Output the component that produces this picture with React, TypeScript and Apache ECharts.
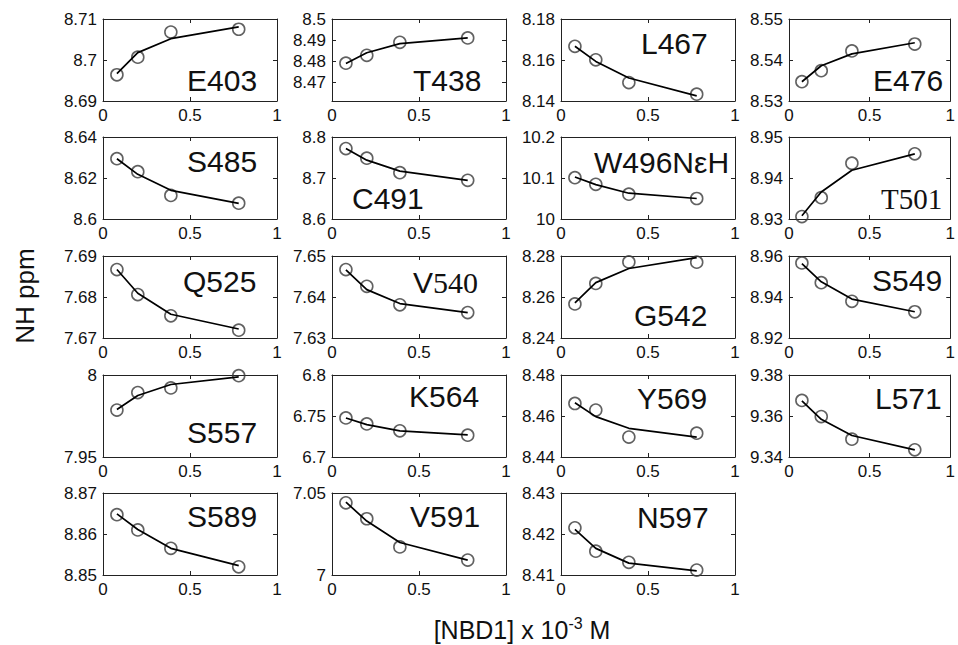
import React, { useEffect, useRef } from "react";
import * as echarts from "echarts";

// ---- data ----
const concentrations = [0.08, 0.2, 0.39, 0.78];

const residues = [
  "E403", "T438", "L467", "E476",
  "S485", "C491", "W496NεH", "T501",
  "Q525", "V540", "G542", "S549",
  "S557", "K564", "Y569", "L571",
  "S589", "V591", "N597",
];

const observed = [
  [8.6964, 8.7007, 8.7068, 8.7075],
  [8.4792, 8.4829, 8.489, 8.4911],
  [8.1667, 8.1601, 8.149, 8.1433],
  [8.5347, 8.5374, 8.5422, 8.5439],
  [8.6294, 8.6231, 8.6115, 8.6077],
  [8.7718, 8.7484, 8.7129, 8.6944],
  [10.1008, 10.0847, 10.0605, 10.05],
  [8.9306, 8.9352, 8.9436, 8.9459],
  [7.6867, 7.6806, 7.6754, 7.6719],
  [7.6467, 7.6426, 7.6381, 7.6362],
  [8.2566, 8.2666, 8.2771, 8.277],
  [8.9566, 8.947, 8.9379, 8.9328],
  [7.9786, 7.9893, 7.9921, 7.9996],
  [6.7476, 6.7403, 6.7319, 6.7266],
  [8.4661, 8.4629, 8.4497, 8.4516],
  [9.3676, 9.3597, 9.3487, 9.3435],
  [8.8647, 8.861, 8.8565, 8.852],
  [7.044, 7.0343, 7.0171, 7.0091],
  [8.4215, 8.4158, 8.4131, 8.4112],
];

const fitted = [
  [8.6967, 8.7018, 8.7052, 8.7081],
  [8.479, 8.4841, 8.4884, 8.4911],
  [8.1667, 8.1593, 8.1512, 8.1425],
  [8.5347, 8.5386, 8.5415, 8.5442],
  [8.6294, 8.6218, 8.614, 8.6076],
  [8.772, 8.7435, 8.7169, 8.6944],
  [10.1024, 10.0839, 10.0629, 10.05],
  [8.9308, 8.9366, 8.9419, 8.9459],
  [7.6867, 7.6809, 7.6758, 7.6722],
  [7.6466, 7.6418, 7.6384, 7.6362],
  [8.2571, 8.267, 8.2739, 8.2792],
  [8.9563, 8.9474, 8.939, 8.9328],
  [7.979, 7.9875, 7.9942, 7.9988],
  [6.7476, 6.7395, 6.7319, 6.727],
  [8.4665, 8.4597, 8.454, 8.4497],
  [9.3674, 9.3584, 9.3505, 9.3435],
  [8.8649, 8.8611, 8.8565, 8.8523],
  [7.0444, 7.0329, 7.0198, 7.0091],
  [8.4211, 8.4165, 8.4129, 8.411],
];

const yMin = [8.69, 8.4614, 8.14, 8.53, 8.6, 8.6, 10, 8.93, 7.67, 7.63, 8.24, 8.92, 7.95, 6.7, 8.44, 9.34, 8.85, 7, 8.41];
const yMax = [8.71, 8.5, 8.18, 8.55, 8.64, 8.8, 10.2, 8.95, 7.69, 7.65, 8.28, 8.96, 8, 6.8, 8.48, 9.38, 8.87, 7.05, 8.43];
// null = let the axis choose (ticks at 0.01 steps, min label hidden)
const yStep = [0.01, null, 0.02, 0.01, 0.02, 0.1, 0.1, 0.01, 0.01, 0.01, 0.02, 0.02, 0.05, 0.05, 0.02, 0.02, 0.01, 0.05, 0.01];

const xTicks = { min: 0, max: 1, step: 0.5 };

const yTitle = "NH ppm";
const xTitleMain = "[NBD1] x 10";
const xTitleSup = "-3";
const xTitleUnit = " M";

// ---- layout (not data) ----
const colLeft = [103, 332, 561, 789];
const rowTop = [19, 137, 256, 375, 493];
const panelW = 174;
const panelH = 82;
const labelOffset = [
  [84, 61], [81, 61], [80, 24], [84, 61],
  [84, 24], [20, 61], [33, 25], [92, 62],
  [80, 25], [81, 26], [73, 59], [83, 24],
  [84, 57], [77, 21], [76, 23], [86, 23],
  [84, 23], [78, 23], [76, 24],
];

const SANS = '"Liberation Sans", Arial, Helvetica, sans-serif';
const SERIF = '"Liberation Serif", "Times New Roman", serif';
const INK = "#111";

function panelLabel(i: number, x: number, y: number) {
  const name = residues[i];
  const base: any = {
    type: "text",
    x,
    y,
    z: 100,
    style: { align: "left", verticalAlign: "middle", fill: INK },
  };
  if (name === "T501") {
    base.style.text = name;
    base.style.font = `29px ${SERIF}`;
  } else if (name === "V540") {
    base.style.text = "{s|V}{t|540}";
    base.style.rich = {
      s: { fontSize: 30, fontFamily: SANS, fill: INK, color: INK },
      t: { fontSize: 30, fontFamily: SERIF, fill: INK, color: INK },
    };
  } else {
    base.style.text = name;
    base.style.font = `30px ${SANS}`;
  }
  return base;
}

export default function App() {
  const ref = useRef<HTMLDivElement>(null);

  useEffect(() => {
    if (!ref.current) return;
    const chart = echarts.init(ref.current, undefined, { renderer: "svg" });

    const grids: any[] = [];
    const xAxes: any[] = [];
    const yAxes: any[] = [];
    const series: any[] = [];
    const graphics: any[] = [];

    residues.forEach((_, i) => {
      const r = Math.floor(i / 4);
      const c = i % 4;
      const left = colLeft[c];
      const top = rowTop[r];
      grids.push({ left, top, width: panelW, height: panelH, containLabel: false });

      const lineStyle = { show: true, onZero: false, lineStyle: { color: "#222", width: 1 } };
      const tick = { show: true, inside: true, length: 4, lineStyle: { color: "#222", width: 1 } };

      xAxes.push({
        type: "value",
        gridIndex: i,
        position: "bottom",
        min: xTicks.min,
        max: xTicks.max,
        interval: xTicks.step,
        axisLine: lineStyle,
        axisTick: tick,
        splitLine: { show: false },
        axisLabel: { show: true, fontSize: 17, fontFamily: SANS, color: INK, margin: 6, showMinLabel: true, showMaxLabel: true },
      });
      xAxes.push({
        type: "value",
        gridIndex: i,
        position: "top",
        min: xTicks.min,
        max: xTicks.max,
        interval: xTicks.step,
        axisLine: lineStyle,
        axisTick: tick,
        splitLine: { show: false },
        axisLabel: { show: false },
      });

      const step = yStep[i];
      const yCommon: any = {
        type: "value",
        gridIndex: i,
        min: yMin[i],
        max: yMax[i],
        axisLine: lineStyle,
        axisTick: tick,
        splitLine: { show: false },
      };
      if (step != null) yCommon.interval = step;
      else yCommon.splitNumber = 4;

      yAxes.push({
        ...yCommon,
        position: "left",
        axisLabel: {
          show: true,
          fontSize: 17,
          fontFamily: SANS,
          color: INK,
          margin: 6,
          showMinLabel: step != null,
          showMaxLabel: true,
        },
      });
      yAxes.push({
        ...yCommon,
        position: "right",
        axisLabel: { show: false },
      });

      series.push({
        type: "line",
        xAxisIndex: 2 * i,
        yAxisIndex: 2 * i,
        data: concentrations.map((x, j) => [x, fitted[i][j]]),
        symbol: "none",
        lineStyle: { color: "#000", width: 1.7 },
        z: 3,
        silent: true,
      });
      series.push({
        type: "scatter",
        xAxisIndex: 2 * i,
        yAxisIndex: 2 * i,
        data: concentrations.map((x, j) => [x, observed[i][j]]),
        symbol: "circle",
        symbolSize: 12,
        itemStyle: { color: "rgba(0,0,0,0)", borderColor: "#3a3a3a", borderWidth: 1.6 },
        z: 2,
        silent: true,
      });

      graphics.push(panelLabel(i, left + labelOffset[i][0], top + labelOffset[i][1]));
    });

    graphics.push({
      type: "text",
      x: 25,
      y: 296,
      rotation: Math.PI / 2,
      style: {
        text: yTitle,
        font: `26px ${SANS}`,
        fill: INK,
        align: "center",
        verticalAlign: "middle",
      },
    });
    graphics.push({
      type: "text",
      x: 522,
      y: 630,
      style: {
        text: `{a|${xTitleMain}}{b|${xTitleSup}}{a|${xTitleUnit}}`,
        align: "center",
        verticalAlign: "middle",
        fill: INK,
        rich: {
          a: { fontSize: 25, fontFamily: SANS, lineHeight: 30, fill: INK, color: INK },
          b: { fontSize: 16, fontFamily: SANS, lineHeight: 16, verticalAlign: "top", fill: INK, color: INK },
        },
      },
    });

    chart.setOption({
      animation: false,
      backgroundColor: "#fff",
      grid: grids,
      xAxis: xAxes,
      yAxis: yAxes,
      series,
      graphic: graphics,
    });

    return () => chart.dispose();
  }, []);

  return (
    <div
      ref={ref}
      style={{ position: "fixed", left: 0, top: 0, width: 958, height: 645, background: "#fff" }}
    />
  );
}
